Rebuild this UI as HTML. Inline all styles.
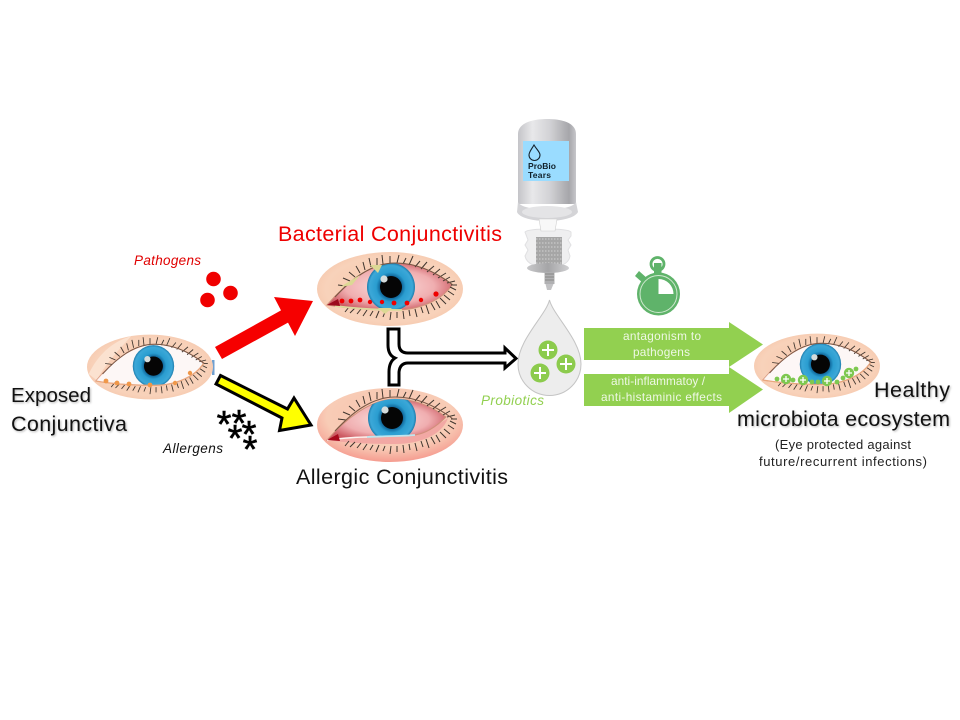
<!DOCTYPE html>
<html><head><meta charset="utf-8"><style>
html,body{margin:0;padding:0;background:#fff;width:960px;height:720px;overflow:hidden}
svg{display:block}
text{font-family:"Liberation Sans",sans-serif}
.sh{filter:drop-shadow(1px 1.5px 1px rgba(0,0,0,.3))}
</style></head><body>
<svg width="960" height="720" viewBox="0 0 960 720" xmlns="http://www.w3.org/2000/svg">
<defs>
<radialGradient id="skin" cx=".5" cy=".5" r=".55"><stop offset="0" stop-color="#f6c6aa"/><stop offset=".8" stop-color="#f8d2ba"/><stop offset="1" stop-color="#f6c8ad"/></radialGradient>
<radialGradient id="skinR" cx=".5" cy=".38" r=".62"><stop offset="0" stop-color="#f7c4ae"/><stop offset=".7" stop-color="#f8ccb6"/><stop offset="1" stop-color="#f59c90"/></radialGradient>
<radialGradient id="iris" cx=".5" cy=".5" r=".5"><stop offset="0" stop-color="#062c4a"/><stop offset=".45" stop-color="#0f6498"/><stop offset=".62" stop-color="#2a9dd0"/><stop offset=".9" stop-color="#3ca8d8"/><stop offset="1" stop-color="#1d7bab"/></radialGradient>
<radialGradient id="sclR" cx=".5" cy=".5" r=".55"><stop offset="0" stop-color="#fbe0de"/><stop offset=".65" stop-color="#f0aeb0"/><stop offset="1" stop-color="#cc5a62"/></radialGradient>
<linearGradient id="cyl" x1="0" x2="1" y1="0" y2="0"><stop offset="0" stop-color="#c4c4c8"/><stop offset=".25" stop-color="#e8e8ea"/><stop offset=".55" stop-color="#d2d2d5"/><stop offset=".88" stop-color="#a6a6aa"/><stop offset="1" stop-color="#c6c6ca"/></linearGradient>
<linearGradient id="disc" x1="0" x2="1" y1="0" y2="0"><stop offset="0" stop-color="#c8c8ca"/><stop offset=".5" stop-color="#a5a5a7"/><stop offset="1" stop-color="#d0d0d2"/></linearGradient>
<clipPath id="clipA"><path d="M-63 16C-45 19,-20 21,5 21C30 21,52 11,62 -4C50 -14,30 -26,5 -26C-20 -26,-45 -5,-63 16Z"/></clipPath>
<clipPath id="clipB"><path d="M-63 15C-45 13,-35 12,-23 12C0 11,15 11,25 10C38 8,48 0,56 -8C48 -14,30 -26,5 -26C-20 -26,-45 -5,-63 15Z"/></clipPath>
<path id="openA" d="M-63 16C-45 19,-20 21,5 21C30 21,52 11,62 -4C50 -14,30 -26,5 -26C-20 -26,-45 -5,-63 16Z"/>
<path id="openB" d="M-63 15C-45 13,-35 12,-23 12C0 11,15 11,25 10C38 8,48 0,56 -8C48 -14,30 -26,5 -26C-20 -26,-45 -5,-63 15Z"/>
<g id="iriskit">
<circle cx="1" cy="-2" r="24" fill="url(#iris)"/>
<circle cx="1" cy="-2" r="11" fill="#050505"/>
<circle cx="-6" cy="-10" r="3.600" fill="#d5dcdc"/>
</g>
<g id="lash" fill="none" stroke="#3f352e" stroke-width="1">
<path d="M-44 -3L-52 -4M-40 -8L-47 -11M-35 -12L-41 -17M-30 -16L-34 -23M-25 -19L-27 -27M-19 -22L-21 -31M-13 -24L-13 -31M-7 -25L-8 -34M0 -26L0 -33M7 -26L9 -34M13 -25L16 -31M19 -24L23 -33M25 -22L30 -28M31 -20L37 -27M37 -17L44 -23M43 -14L50 -20M48 -11L56 -16M53 -8L60 -12M57 -6L65 -8M61 -4L67 -4M60 -2L66 1"/>
<path d="M58 2L64 6M54 6L60 11M50 9L56 15M46 12L50 19M41 14L45 21M36 16L39 25M31 18L33 24M25 20L27 28M19 21L20 27M13 22L14 30M7 23L7 29M1 23L0 31M-5 23L-7 28M-11 22L-14 29M-17 22L-20 27M-23 21L-27 27M-29 20L-33 25M-35 19L-40 24M-41 18L-45 23"/>
<path d="M-55 8C-40 -8,-20 -26,5 -26C30 -26,50 -14,63 -4" stroke-width="1.100" stroke="#7a5644"/>
</g>
</defs>
<rect width="960" height="720" fill="#fff"/>

<!-- Eye 1 -->
<rect x="212" y="360" width="2.500" height="15" fill="#6f9fd0"/>
<g transform="translate(150,367) scale(.863,.875)">
<ellipse rx="73" ry="37" fill="url(#skin)"/>
<path d="M-71 8C-60 -15,-42 -30,-22 -35C-38 -18,-52 -2,-62 15Z" fill="#fbe2d0"/>
<use href="#openA" fill="#fdf7f6" stroke="#d99d86" stroke-width="1"/>
<g clip-path="url(#clipA)"><use href="#iriskit" transform="translate(3,1)"/></g>
<use href="#lash"/>
<path d="M-63 16C-45 19,-20 21,5 21C30 21,52 11,62 -4" fill="none" stroke="#e9a67e" stroke-width="1.400"/>
</g>
<g fill="#f0984a"><circle cx="106" cy="381" r="2.400"/><circle cx="117" cy="383" r="2.400"/><circle cx="129" cy="384" r="2.400"/><circle cx="150" cy="385" r="2.400"/><circle cx="175" cy="383" r="2.200"/><circle cx="190" cy="373" r="2.200"/></g>

<!-- Eye 2 Bacterial -->
<g transform="translate(390,289)">
<ellipse rx="73" ry="37" fill="url(#skin)"/>
<use href="#openA" fill="url(#sclR)" stroke="#d0907a" stroke-width="1"/>
<g clip-path="url(#clipA)"><use href="#iriskit"/></g>
<use href="#lash"/>
<path d="M-55 17C-30 20,-10 21,12 21" fill="none" stroke="#dcdb9e" stroke-width="1.800"/>
<path d="M-50 -2L-30 -14L-38 -4Z M-20 -24L-12 -16L-8 -24Z M-12 19L-5 25L2 19Z" fill="#dcd894"/>
<path d="M-63 16L-52 10L-50 17Z" fill="#9c0a1c"/>
</g>
<g fill="#f00000"><circle cx="342" cy="301" r="2.400"/><circle cx="351" cy="301" r="2.400"/><circle cx="360" cy="300" r="2.400"/><circle cx="370" cy="302" r="2.200"/><circle cx="382" cy="302" r="2.200"/><circle cx="394" cy="303" r="2.400"/><circle cx="407" cy="303" r="2.400"/><circle cx="421" cy="300" r="2.200"/><circle cx="436" cy="294" r="2.600"/></g>

<!-- Eye 3 Allergic -->
<g transform="translate(390,425)">
<ellipse rx="73" ry="37" fill="url(#skinR)"/>
<path d="M-63 15C-45 13,-23 12,5 11C30 10,48 0,58 -7C52 10,30 19,5 19C-20 19,-45 18,-63 15Z" fill="#f2a8a4"/>
<use href="#openB" fill="url(#sclR)" stroke="#d0907a" stroke-width="1"/>
<g clip-path="url(#clipB)"><use href="#iriskit" transform="translate(1,-5)"/></g>
<use href="#lash" transform="translate(0,-2)"/>
<path d="M-63 15C-45 13,-35 12,-23 12" fill="none" stroke="#fdf3f0" stroke-width="1.500"/>
<path d="M-23 12C0 11,15 11,25 10" fill="none" stroke="#bfe6ee" stroke-width="1.800"/>
<path d="M-63 15L-52 9L-50 16Z" fill="#a80a1c"/>
</g>

<!-- Eye 4 Healthy -->
<g transform="translate(817,366) scale(.863,.875)">
<ellipse rx="73" ry="37" fill="url(#skin)"/>
<use href="#openA" fill="#fdf7f6" stroke="#d99d86" stroke-width="1"/>
<g clip-path="url(#clipA)"><use href="#iriskit" transform="translate(3,0)"/></g>
<use href="#lash"/>
<path d="M-63 16C-45 19,-20 21,5 21C30 21,52 11,62 -4" fill="none" stroke="#e9a67e" stroke-width="1.400"/>
</g>
<g fill="#7ec850"><circle cx="777" cy="379" r="2.400"/><circle cx="793" cy="380" r="2.400"/><circle cx="812" cy="382" r="2.400"/><circle cx="818" cy="382" r="2.400"/><circle cx="837" cy="382" r="2.400"/><circle cx="843" cy="378" r="2.400"/><circle cx="856" cy="369" r="2.400"/>
<circle cx="786" cy="379" r="5.200"/><circle cx="803" cy="380" r="5.200"/><circle cx="827" cy="381" r="5.200"/><circle cx="849" cy="373" r="5.200"/></g>
<g stroke="#fff" stroke-width="1.300"><path d="M783 379h6M786 376v6M800 380h6M803 377v6M824 381h6M827 378v6M846 373h6M849 370v6"/></g>

<!-- Pathogen dots -->
<g fill="#f00000"><circle cx="213.500" cy="279" r="7.300"/><circle cx="230.500" cy="293" r="7.300"/><circle cx="207.500" cy="300" r="7.300"/></g>

<!-- Red arrow -->
<path d="M215 347L281 310.400L274 297L313 301L295 336L288 322.600L222 359Z" fill="#f60000"/>
<!-- Yellow arrow -->
<path d="M220.500 375.500L287.500 409L294 398L311 425L279.500 430.500L282 418L216 384Z" fill="#ffff00" stroke="#000" stroke-width="3" stroke-linejoin="miter"/>

<!-- Asterisks -->
<g font-size="38" fill="#000" stroke="#000" stroke-width=".6" text-anchor="middle">
<text x="224" y="437">*</text><text x="239" y="436">*</text><text x="235" y="451">*</text><text x="249" y="447">*</text><text x="250" y="462">*</text>
</g>

<!-- Hollow T arrow -->
<path d="M388 329H399V344Q399 353 408 353H505V348L516 358.500L505 368V363H408Q400 363 399 372V385H389V372Q389 362 395 358Q388 355 388 345Z" fill="#fff" stroke="#000" stroke-width="3" stroke-linejoin="miter"/>

<!-- Bottle -->
<g>
<path d="M518 134C518 122,535 119,547 119C560 119,576 122,576 134V204H518Z" fill="url(#cyl)"/>
<path d="M518 202C522 212,572 212,576 202L578 212C572 224,522 224,517 212Z" fill="#d4d4d7"/>
<ellipse cx="547" cy="212" rx="25" ry="6" fill="#e4e4e6"/>
<rect x="523" y="141" width="46" height="40" fill="#9adcff"/>
<path d="M534 145C531 150,529 152,529 155A5.500 5.500 0 0 0 540 155C540 152,537 150,534 145Z" fill="none" stroke="#15222c" stroke-width="1.100"/>
<text x="528" y="169" font-size="8.500" font-weight="700" fill="#10202a" textLength="28">ProBio</text>
<text x="528" y="178" font-size="8.500" fill="#10202a" font-weight="700" textLength="23">Tears</text>
<path d="M525 232C528 228,568 228,571 232V236L568 240L571 245L568 250L570 256C568 272,528 272,525 256L528 250L525 245L528 240Z" fill="#efeff0" stroke="#e0e0e2" stroke-width="1"/>
<path d="M539 219H557L555 231H541Z" fill="#f8f8f8" stroke="#d0d0d0" stroke-width=".6"/>
<rect x="536" y="237" width="26" height="28" fill="#a6a6a6"/>
<path d="M536 239h26M536 243h26M536 247h26M536 251h26M536 255h26M536 259h26M536 263h26" stroke="#d2d2d2" stroke-width="1" stroke-dasharray="1.500 1.500"/>
<ellipse cx="548" cy="268" rx="21" ry="5" fill="url(#disc)"/>
<rect x="544.500" y="272" width="10" height="12" fill="#b0b0b2"/>
<path d="M545 274h9M545 277h9M545 280h9" stroke="#7a7a7a" stroke-width=".8"/>
<path d="M545.500 284H553.500L551 290H547Z" fill="#c2c2c4"/>
</g>

<!-- Drop -->
<path d="M549.500 300C546 315,518 340,518 364A31.500 31.500 0 0 0 581 364C581 340,553 315,549.500 300Z" fill="#ededed" stroke="#c4c4c4" stroke-width="1"/>
<g fill="#8ccb4d"><circle cx="548" cy="350" r="9.500"/><circle cx="566" cy="364" r="9.500"/><circle cx="540" cy="373" r="9.500"/></g>
<g stroke="#fff" stroke-width="2"><path d="M542 350h12M548 344v12M560 364h12M566 358v12M534 373h12M540 367v12"/></g>

<!-- Timer -->
<g fill="#5fb36a">
<circle cx="657.500" cy="264" r="6.500" fill="none" stroke="#5fb36a" stroke-width="2.800"/>
<rect x="654" y="263" width="7.500" height="11"/>
<path d="M635 276L639 271L648 279L644 284Z"/>
<circle cx="658.500" cy="294" r="21.500"/>
</g>
<circle cx="658.500" cy="294" r="18.500" fill="none" stroke="#cfe8cf" stroke-width="1"/>
<path d="M658.500 294V279A15 15 0 0 1 673.500 294Z" fill="#fff"/>

<!-- Green arrows -->
<path d="M584 328H729V322L763 344.500L729 367V360H584Z" fill="#92d050"/>
<path d="M584 374H729V367L763 389.500L729 413V406H584Z" fill="#92d050"/>
<g fill="#fff" font-size="11.800" opacity=".85">
<text x="623" y="340" textLength="78">antagonism to</text>
<text x="633" y="356" textLength="57">pathogens</text>
<text x="611" y="385" textLength="94">anti-inflammatoy /</text>
<text x="601" y="401" textLength="121">anti-histaminic effects</text>
</g>

<!-- Labels -->
<text x="278" y="241" font-size="21.500" fill="#ee0000" textLength="224">Bacterial Conjunctivitis</text>
<text x="296" y="484" font-size="21.500" fill="#111" textLength="212">Allergic Conjunctivitis</text>
<text x="11" y="402" font-size="20.500" fill="#111" textLength="80" class="sh">Exposed</text>
<text x="11" y="431" font-size="21.500" fill="#111" textLength="116" class="sh">Conjunctiva</text>
<text x="874" y="397" font-size="21.500" fill="#111" textLength="76" class="sh">Healthy</text>
<text x="737" y="426" font-size="21.500" fill="#111" textLength="213" class="sh">microbiota ecosystem</text>
<text x="775" y="449" font-size="13" fill="#222" textLength="136">(Eye protected against</text>
<text x="759" y="466" font-size="13" fill="#222" textLength="168">future/recurrent infections)</text>
<text x="134" y="265" font-size="13.500" font-style="italic" fill="#e00000" textLength="67">Pathogens</text>
<text x="163" y="453" font-size="13.500" font-style="italic" fill="#111" textLength="60">Allergens</text>
<text x="481" y="405" font-size="13.500" font-style="italic" fill="#92d050" textLength="63">Probiotics</text>
</svg>
</body></html>
